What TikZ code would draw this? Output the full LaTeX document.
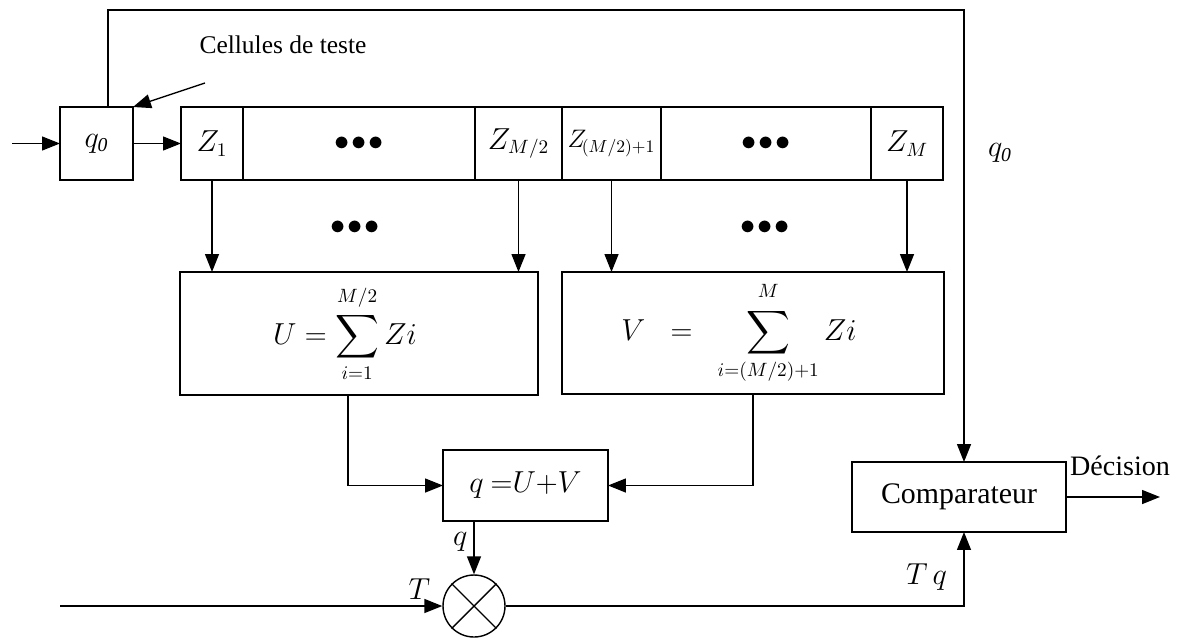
\documentclass[tikz,border=0pt]{standalone}
\usepackage{amsmath}
\usepackage{fontspec}
\setmainfont{Liberation Serif}
\usepackage{tikz}
\usetikzlibrary{arrows.meta,calc,positioning}

\tikzset{
  kutu/.style={draw,rectangle,inner sep=0pt,outer sep=0pt},
  hucre/.style={kutu,minimum height=1.46cm},
  ok/.style={-{Triangle[length=3.6mm,width=2.8mm]}},
}

\begin{document}
\begin{tikzpicture}[x=0.02cm,y=-0.02cm,line width=0.8pt,font=\fontsize{16}{19}\selectfont]
\useasboundingbox (0,0) rectangle (1180,643);
% giris ve q0
\node[hucre,minimum width=1.46cm] (q0) at (96.5,143.5) {$q_{\mathit{0}}$};
\coordinate (giris) at (12,143.5);
\draw[ok] (giris) -- (q0);
\node (hucreler) at (283,45) {\fontsize{14.5}{17}\selectfont Cellules de teste};
\coordinate (okbas) at (205,83);
\draw[ok] (okbas) -- (q0.north east);
% kayit
\node[hucre,minimum width=1.24cm] (z1) at (212,143.5) {$Z_1$};
\node[hucre,minimum width=4.64cm] (n1) at (359,143.5) {$\bullet\!\bullet\!\bullet$};
\node[hucre,minimum width=1.74cm] (zm2) at (518.5,143.5) {$Z_{M/2}$};
\node[hucre,minimum width=1.98cm,font=\fontsize{14}{17}\selectfont] (zm21) at (611.5,143.5) {$Z_{\!(M/2)+1}$};
\node[hucre,minimum width=4.2cm] (n2) at (766,143.5) {$\bullet\!\bullet\!\bullet$};
\node[hucre,minimum width=1.44cm] (zm) at (907,143.5) {$Z_M$};
\draw[ok] (q0) -- (z1);
% toplamlar
\node[kutu,minimum width=7.16cm,minimum height=2.46cm] (U) at (359,333.5) {$\displaystyle U=\sum_{i=1}^{\rule[-4pt]{0pt}{4pt}M/2} Zi\quad$};
\node[kutu,minimum width=7.64cm,minimum height=2.44cm] (V) at (753,333) {$\displaystyle V\;\;=\;\;\sum_{i=(M/2)+1}^{\rule[-4pt]{0pt}{4pt}M} Zi\quad$};
\node (n3) at (355,228) {$\bullet\!\bullet\!\bullet$};
\node (n4) at (765,228) {$\bullet\!\bullet\!\bullet$};
\draw[ok] (z1.south) -- (z1.south |- U.north);
\draw[ok] (zm2.south) -- (zm2.south |- U.north);
\draw[ok] (zm21.south) -- (zm21.south |- V.north);
\draw[ok] (zm.south) -- (zm.south |- V.north);
% q = U+V
\node[kutu,minimum width=3.3cm,minimum height=1.42cm] (qk) at (525.5,485.5) {$q\ {=}U{+}V$};
\draw[ok] ([xshift=-0.22cm]U.south) |- (qk.west);
\draw[ok] (V.south) |- (qk.east);
% carpim
\node[draw,circle,minimum size=1.24cm,inner sep=0pt] (carp) at (474,606) {};
\draw (carp.north east) -- (carp.south west) (carp.north west) -- (carp.south east);
\draw[ok] (qk.south -| carp.north) -- node[left,pos=0.4]{$q$} (carp.north);
\coordinate (Tgiris) at (60,606);
\draw[ok] (Tgiris) -- node[above,pos=0.94]{$T$} (carp.west);
% karsilastirici
\node[kutu,minimum width=4.28cm,minimum height=1.4cm] (komp) at (959,497) {\fontsize{17}{20}\selectfont Comparateur};
\coordinate (ust1) at (108,10);
\coordinate (ust2) at (964,10);
\draw[ok] (q0.north -| ust1) -- (ust1) -- (ust2) -- (ust2 |- komp.north);
\node (q0et) at (1000,153) {$q_{\mathit{0}}$};
\draw[ok] (carp.east) -- (ust2 |- carp.east) -- node[pos=0.08,above left=2pt and 6pt]{$T\,q$} (ust2 |- komp.south);
\coordinate (cikis) at (1160,497);
\draw[ok] (komp.east) -- (cikis);
\node (karar) at (1120,466) {\fontsize{16}{19}\selectfont Décision};
\end{tikzpicture}
\end{document}
